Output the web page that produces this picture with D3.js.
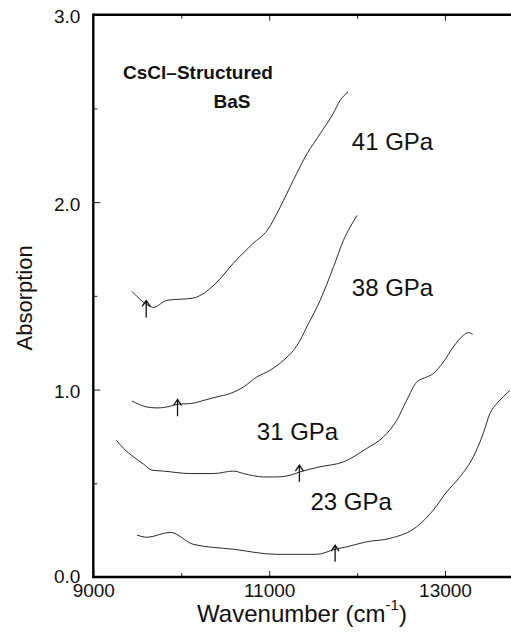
<!DOCTYPE html>
<html>
<head>
<meta charset="utf-8">
<script src="https://cdn.jsdelivr.net/npm/d3@7"></script>
<style>
  html, body { margin: 0; padding: 0; background: #fff; }
  svg text { font-family: "Liberation Sans", Arial, Helvetica, sans-serif; fill: #111; }
</style>
</head>
<body>
<svg id="chart" width="511" height="635"></svg>
<script>
// Absorption spectra of CsCl-structured BaS at four pressures
const pressures = ["41 GPa", "38 GPa", "31 GPa", "23 GPa"];

const wn41 = [9440, 9667, 9682, 9837, 10136, 10216, 10406, 10591, 10818, 10977, 11125, 11273, 11432, 11580, 11727, 11807, 11898];
const ab41 = [1.524, 1.440, 1.438, 1.476, 1.488, 1.502, 1.573, 1.673, 1.780, 1.849, 1.973, 2.115, 2.259, 2.365, 2.472, 2.542, 2.589];

const wn38 = [9440, 9610, 9724, 9875, 9958, 10102, 10292, 10406, 10557, 10708, 10860, 11011, 11163, 11276, 11352, 11428, 11580, 11731, 11844, 11920, 12000];
const ab38 = [0.939, 0.907, 0.902, 0.911, 0.922, 0.925, 0.947, 0.961, 0.979, 1.014, 1.067, 1.103, 1.156, 1.209, 1.263, 1.334, 1.476, 1.653, 1.795, 1.866, 1.929];

const wn31 = [9261, 9344, 9458, 9572, 9667, 9799, 10102, 10367, 10594, 10708, 10935, 11088, 11239, 11352, 11580, 11844, 12110, 12299, 12451, 12565, 12678, 12792, 12867, 12981, 13094, 13208, 13265, 13315];
const ab31 = [0.730, 0.686, 0.641, 0.602, 0.570, 0.565, 0.552, 0.552, 0.565, 0.552, 0.534, 0.534, 0.543, 0.561, 0.588, 0.614, 0.686, 0.747, 0.836, 0.943, 1.040, 1.067, 1.085, 1.147, 1.227, 1.289, 1.304, 1.295];

const wn23 = [9497, 9610, 9875, 10140, 10594, 11088, 11542, 11750, 11883, 12110, 12375, 12678, 12867, 13019, 13170, 13322, 13435, 13511, 13588, 13663, 13739];
const ab23 = [0.224, 0.212, 0.238, 0.174, 0.148, 0.121, 0.121, 0.148, 0.161, 0.188, 0.206, 0.268, 0.357, 0.454, 0.534, 0.641, 0.766, 0.872, 0.925, 0.961, 0.996];

// Arrows marking the absorption edge on each spectrum
const arrowWn = [9602, 9958, 11344, 11750];
const arrowTop = [1.476, 0.947, 0.597, 0.170];
const arrowBottom = [1.385, 0.858, 0.508, 0.082];

// Pressure label anchor points (wavenumber, absorption)
const labelWn = [11940, 11940, 10860, 11470];
const labelAb = [2.28, 1.50, 0.73, 0.36];

const xMajor = [9000, 11000, 13000];
const xMinor = [10000, 12000];
const yMajor = [0.0, 1.0, 2.0, 3.0];
const yMinor = [0.5, 1.5, 2.5];

const svg = d3.select("#chart");
const W = 511;

const x = d3.scaleLinear().domain([9000, 13000]).range([93.3, 445]);
const y = d3.scaleLinear().domain([0, 3]).range([577, 14.7]);

const series = [
  { wn: wn41, ab: ab41 },
  { wn: wn38, ab: ab38 },
  { wn: wn31, ab: ab31 },
  { wn: wn23, ab: ab23 }
];

const line = d3.line().curve(d3.curveMonotoneX).x(d => x(d[0])).y(d => y(d[1]));

// spectra
svg.append("g").selectAll("path")
  .data(series)
  .join("path")
  .attr("d", s => line(s.wn.map((w, i) => [w, s.ab[i]])))
  .attr("fill", "none")
  .attr("stroke", "#2a2a2a")
  .attr("stroke-width", 1)
  .attr("stroke-linejoin", "round");

// edge arrows
svg.append("g").selectAll("path")
  .data(arrowWn.map((w, i) => ({ w, t: arrowTop[i], b: arrowBottom[i] })))
  .join("path")
  .attr("d", d => {
    const px = x(d.w), pt = y(d.t), pb = y(d.b);
    return `M${px},${pb}L${px},${pt}M${px - 4},${pt + 6}L${px},${pt}L${px + 4},${pt + 6}`;
  })
  .attr("fill", "none")
  .attr("stroke", "#111")
  .attr("stroke-width", 1.3);

// axes: ticks point inward
const fmtY = d3.format(".1f");
const gB = svg.append("g").attr("transform", `translate(0,${y(0)})`)
  .call(d3.axisBottom(x).tickValues(xMajor).tickSizeInner(-6).tickSizeOuter(0).tickPadding(7).tickFormat(d3.format("d")));
svg.append("g").attr("transform", `translate(0,${y(0)})`)
  .call(d3.axisBottom(x).tickValues(xMinor).tickSizeInner(-4).tickSizeOuter(0).tickFormat(""));
const gL = svg.append("g").attr("transform", `translate(${x(9000)},0)`)
  .call(d3.axisLeft(y).tickValues(yMajor).tickSizeInner(-7).tickSizeOuter(0).tickPadding(13).tickFormat(fmtY));
svg.append("g").attr("transform", `translate(${x(9000)},0)`)
  .call(d3.axisLeft(y).tickValues(yMinor).tickSizeInner(-4).tickSizeOuter(0).tickFormat(""));
svg.append("g").attr("transform", `translate(0,${y(3)})`)
  .call(d3.axisTop(x).tickValues(xMajor.slice(1)).tickSizeInner(-6).tickSizeOuter(0).tickFormat(""));
svg.append("g").attr("transform", `translate(0,${y(3)})`)
  .call(d3.axisTop(x).tickValues(xMinor).tickSizeInner(-4).tickSizeOuter(0).tickFormat(""));

svg.selectAll(".domain").remove();
svg.selectAll(".tick line").attr("stroke", "#222").attr("stroke-width", 1);
gB.selectAll(".tick text").attr("font-size", 19).attr("fill", "#111");
gL.selectAll(".tick text").attr("font-size", 19).attr("fill", "#111").attr("dy", "0.42em");
gL.selectAll(".tick").filter(d => d === 0).select("text").attr("dy", "0.3em");

// frame
const frame = svg.append("g").attr("stroke", "#000").attr("stroke-width", 2.4).attr("fill", "none");
frame.append("line").attr("x1", x(9000)).attr("x2", x(9000)).attr("y1", y(3) - 1.2).attr("y2", y(0) + 1.2);
frame.append("line").attr("x1", x(9000)).attr("x2", W).attr("y1", y(0)).attr("y2", y(0));
frame.append("line").attr("x1", x(9000)).attr("x2", W).attr("y1", y(3)).attr("y2", y(3));

// axis titles
svg.append("text")
  .attr("transform", `translate(32,${y(1.5) + 2}) rotate(-90)`)
  .attr("text-anchor", "middle")
  .attr("font-size", 22)
  .text("Absorption");

const xt = svg.append("text")
  .attr("x", 302).attr("y", 622)
  .attr("text-anchor", "middle")
  .attr("font-size", 24);
xt.append("tspan").text("Wavenumber (cm");
xt.append("tspan").attr("font-size", 15).attr("dy", -12).text("-1");
xt.append("tspan").attr("dy", 12).text(")");

// sample title
svg.append("text").attr("x", 198).attr("y", 79).attr("text-anchor", "middle")
  .attr("font-size", 19).attr("font-weight", "bold").text("CsCl\u2013Structured");
svg.append("text").attr("x", 232).attr("y", 108).attr("text-anchor", "middle")
  .attr("font-size", 19).attr("font-weight", "bold").text("BaS");

// pressure labels
svg.append("g").selectAll("text")
  .data(pressures)
  .join("text")
  .attr("x", (d, i) => x(labelWn[i]))
  .attr("y", (d, i) => y(labelAb[i]))
  .attr("font-size", 24)
  .text(d => d);
</script>
</body>
</html>
